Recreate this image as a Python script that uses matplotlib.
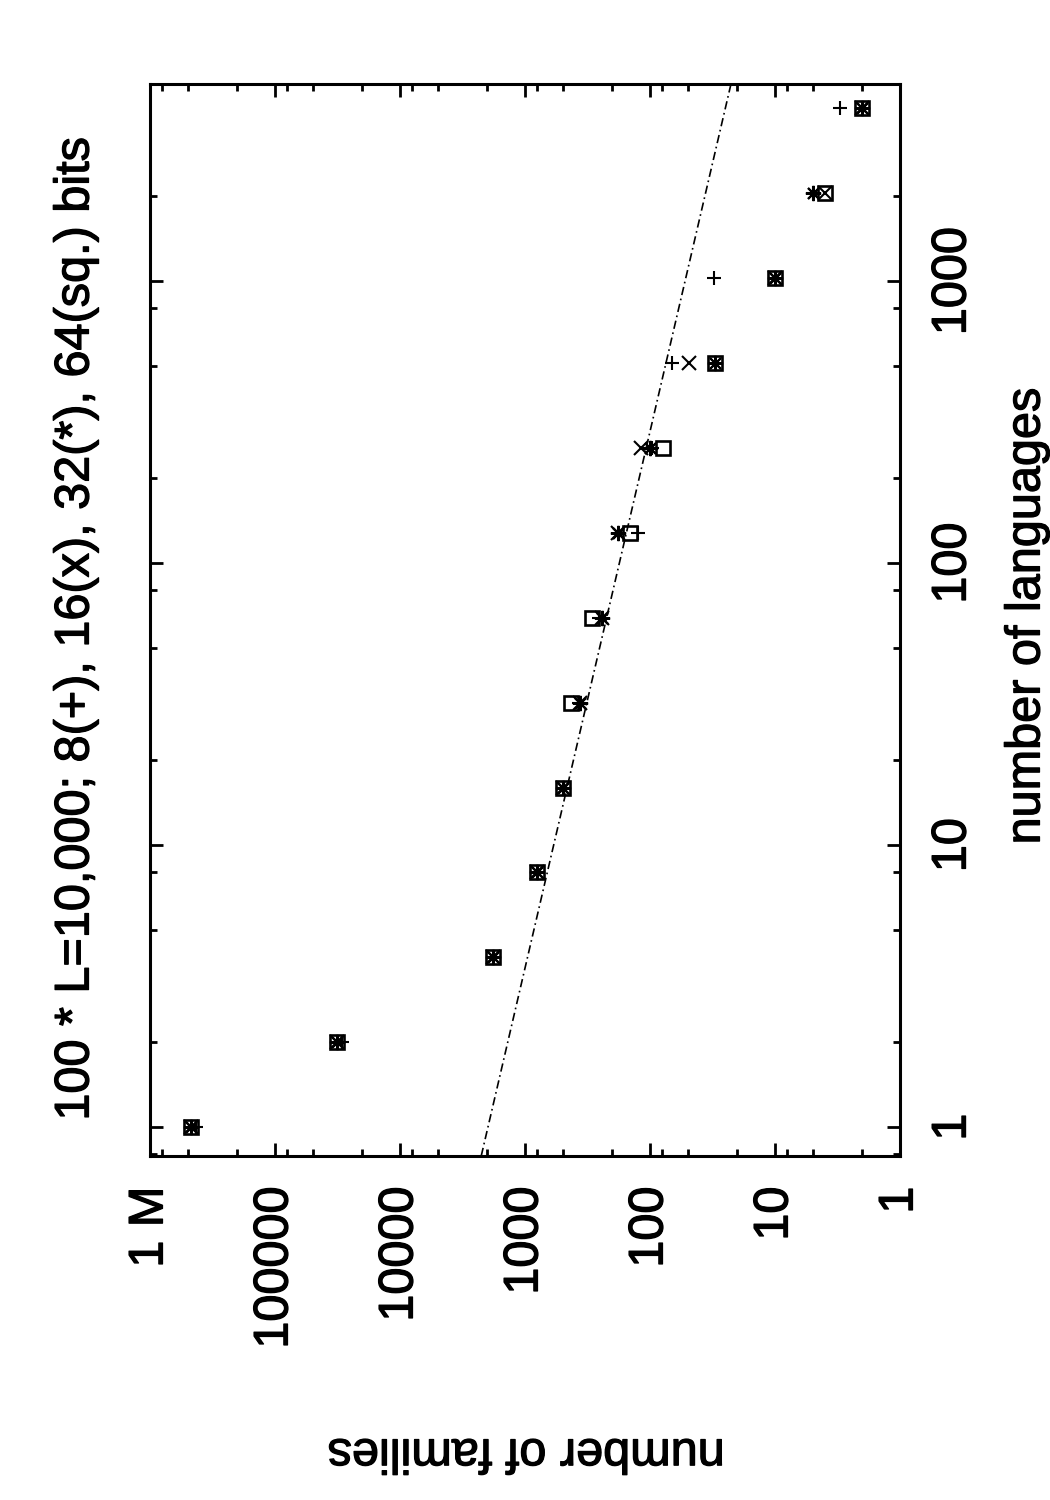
import matplotlib
matplotlib.use("Agg")
import matplotlib.pyplot as plt
import matplotlib.patheffects as pe
import numpy as np

plt.rcParams['font.family'] = ['Liberation Sans', 'DejaVu Sans']

# ---- data ----
languages = [1, 2, 4, 8, 16, 32, 64, 128, 256, 512, 1024, 2048, 4096]
fam_8bit = [429000, 29100, 1790, 807, 500, 370, 255, 125, 97, 67, 31, 5, 3]
fam_16bit = [472000, 32100, 1790, 807, 500, 363, 244, 179, 117, 49, 10, 4, 2]
fam_32bit = [472000, 32100, 1790, 807, 500, 363, 244, 179, 100, 30, 10, 5, 2]
fam_64bit = [472000, 32100, 1790, 807, 500, 431, 293, 145, 78, 30, 10, 4, 2]

# fitted power law line, endpoints at the plot edges
fit_languages = [0.79, 5000]
fit_families = [2240, 22.5]

family_ticks = [1, 10, 100, 1000, 10000, 100000, 1000000]
family_ticklabels = ['1', '10', '100', '1000', '10000', '100000', '1 M']
language_ticks = [1, 10, 100, 1000]
language_ticklabels = ['1', '10', '100', '1000']
minor_mults = [2, 5, 8]

title = "100 * L=10,000; 8(+), 16(x), 32(*), 64(sq.) bits"
xlabel = "number of languages"
ylabel = "number of families"

W, H = 1050, 1500
fig = plt.figure(figsize=(W / 100, H / 100), dpi=100)
left, right, top, bottom = 150, 900, 84, 1156
ax = fig.add_axes([left / W, 1 - bottom / H, (right - left) / W, (bottom - top) / H])

ax.set_xscale('log')
ax.set_yscale('log')
ax.set_xlim(1e6, 1)
ax.set_ylim(0.79, 5000)

FS = 35
heavy = [pe.withStroke(linewidth=0.9, foreground='black')]
ms_lw = 1.5
ax.plot(fam_8bit, languages, linestyle='none', marker='+', ms=9.5, mew=ms_lw, color='black')
ax.plot(fam_16bit, languages, linestyle='none', marker='x', ms=10, mew=ms_lw, color='black')
ax.plot(fam_32bit, languages, linestyle='none', marker=(8, 2, 0), ms=11, mew=ms_lw, color='black')
ax.plot(fam_64bit, languages, linestyle='none', marker='s', ms=10.5, mew=ms_lw + 0.4,
        mfc='none', mec='black')

ax.plot(fit_families, fit_languages, color='black', lw=1.2, dashes=[5, 2.2, 1, 2.2])

# ticks
ax.set_xticks(family_ticks)
ax.set_xticklabels(family_ticklabels, rotation=90, fontsize=FS, ha='center', va='top')
xminor = [m * 10 ** k for k in range(0, 6) for m in minor_mults]
ax.set_xticks(xminor, minor=True)
ax.set_xticklabels([], minor=True)

ax.set_yticks(language_ticks)
ax.set_yticklabels(language_ticklabels, rotation=90, fontsize=FS, va='center')
yminor = [m * 10 ** k for k in range(-1, 4) for m in minor_mults]
yminor = [v for v in yminor if 0.79 <= v <= 5000]
ax.set_yticks(yminor, minor=True)
ax.set_yticklabels([], minor=True)

ax.tick_params(which='both', direction='in', top=True, right=True, width=2.0, color='black')
ax.tick_params(which='major', length=9.5)
ax.tick_params(which='minor', length=5)
ax.tick_params(axis='x', which='major', pad=22)
ax.tick_params(axis='y', which='major', labelleft=False, labelright=True, pad=22)
for s in ax.spines.values():
    s.set_linewidth(2.2)
for lbl in ax.get_xticklabels() + ax.get_yticklabels():
    lbl.set_path_effects(heavy)

fig.text(76 / W, 1 - 629 / H, title, rotation=90, ha='center', va='center', fontsize=FS,
         path_effects=heavy)
fig.text(1027 / W, 1 - 616 / H, xlabel, rotation=90, ha='center', va='center', fontsize=FS,
         path_effects=heavy)
fig.text(526 / W, 1 - 1452 / H, ylabel, rotation=180, ha='center', va='center', fontsize=FS,
         path_effects=heavy)

fig.savefig('out.png', dpi=100)
